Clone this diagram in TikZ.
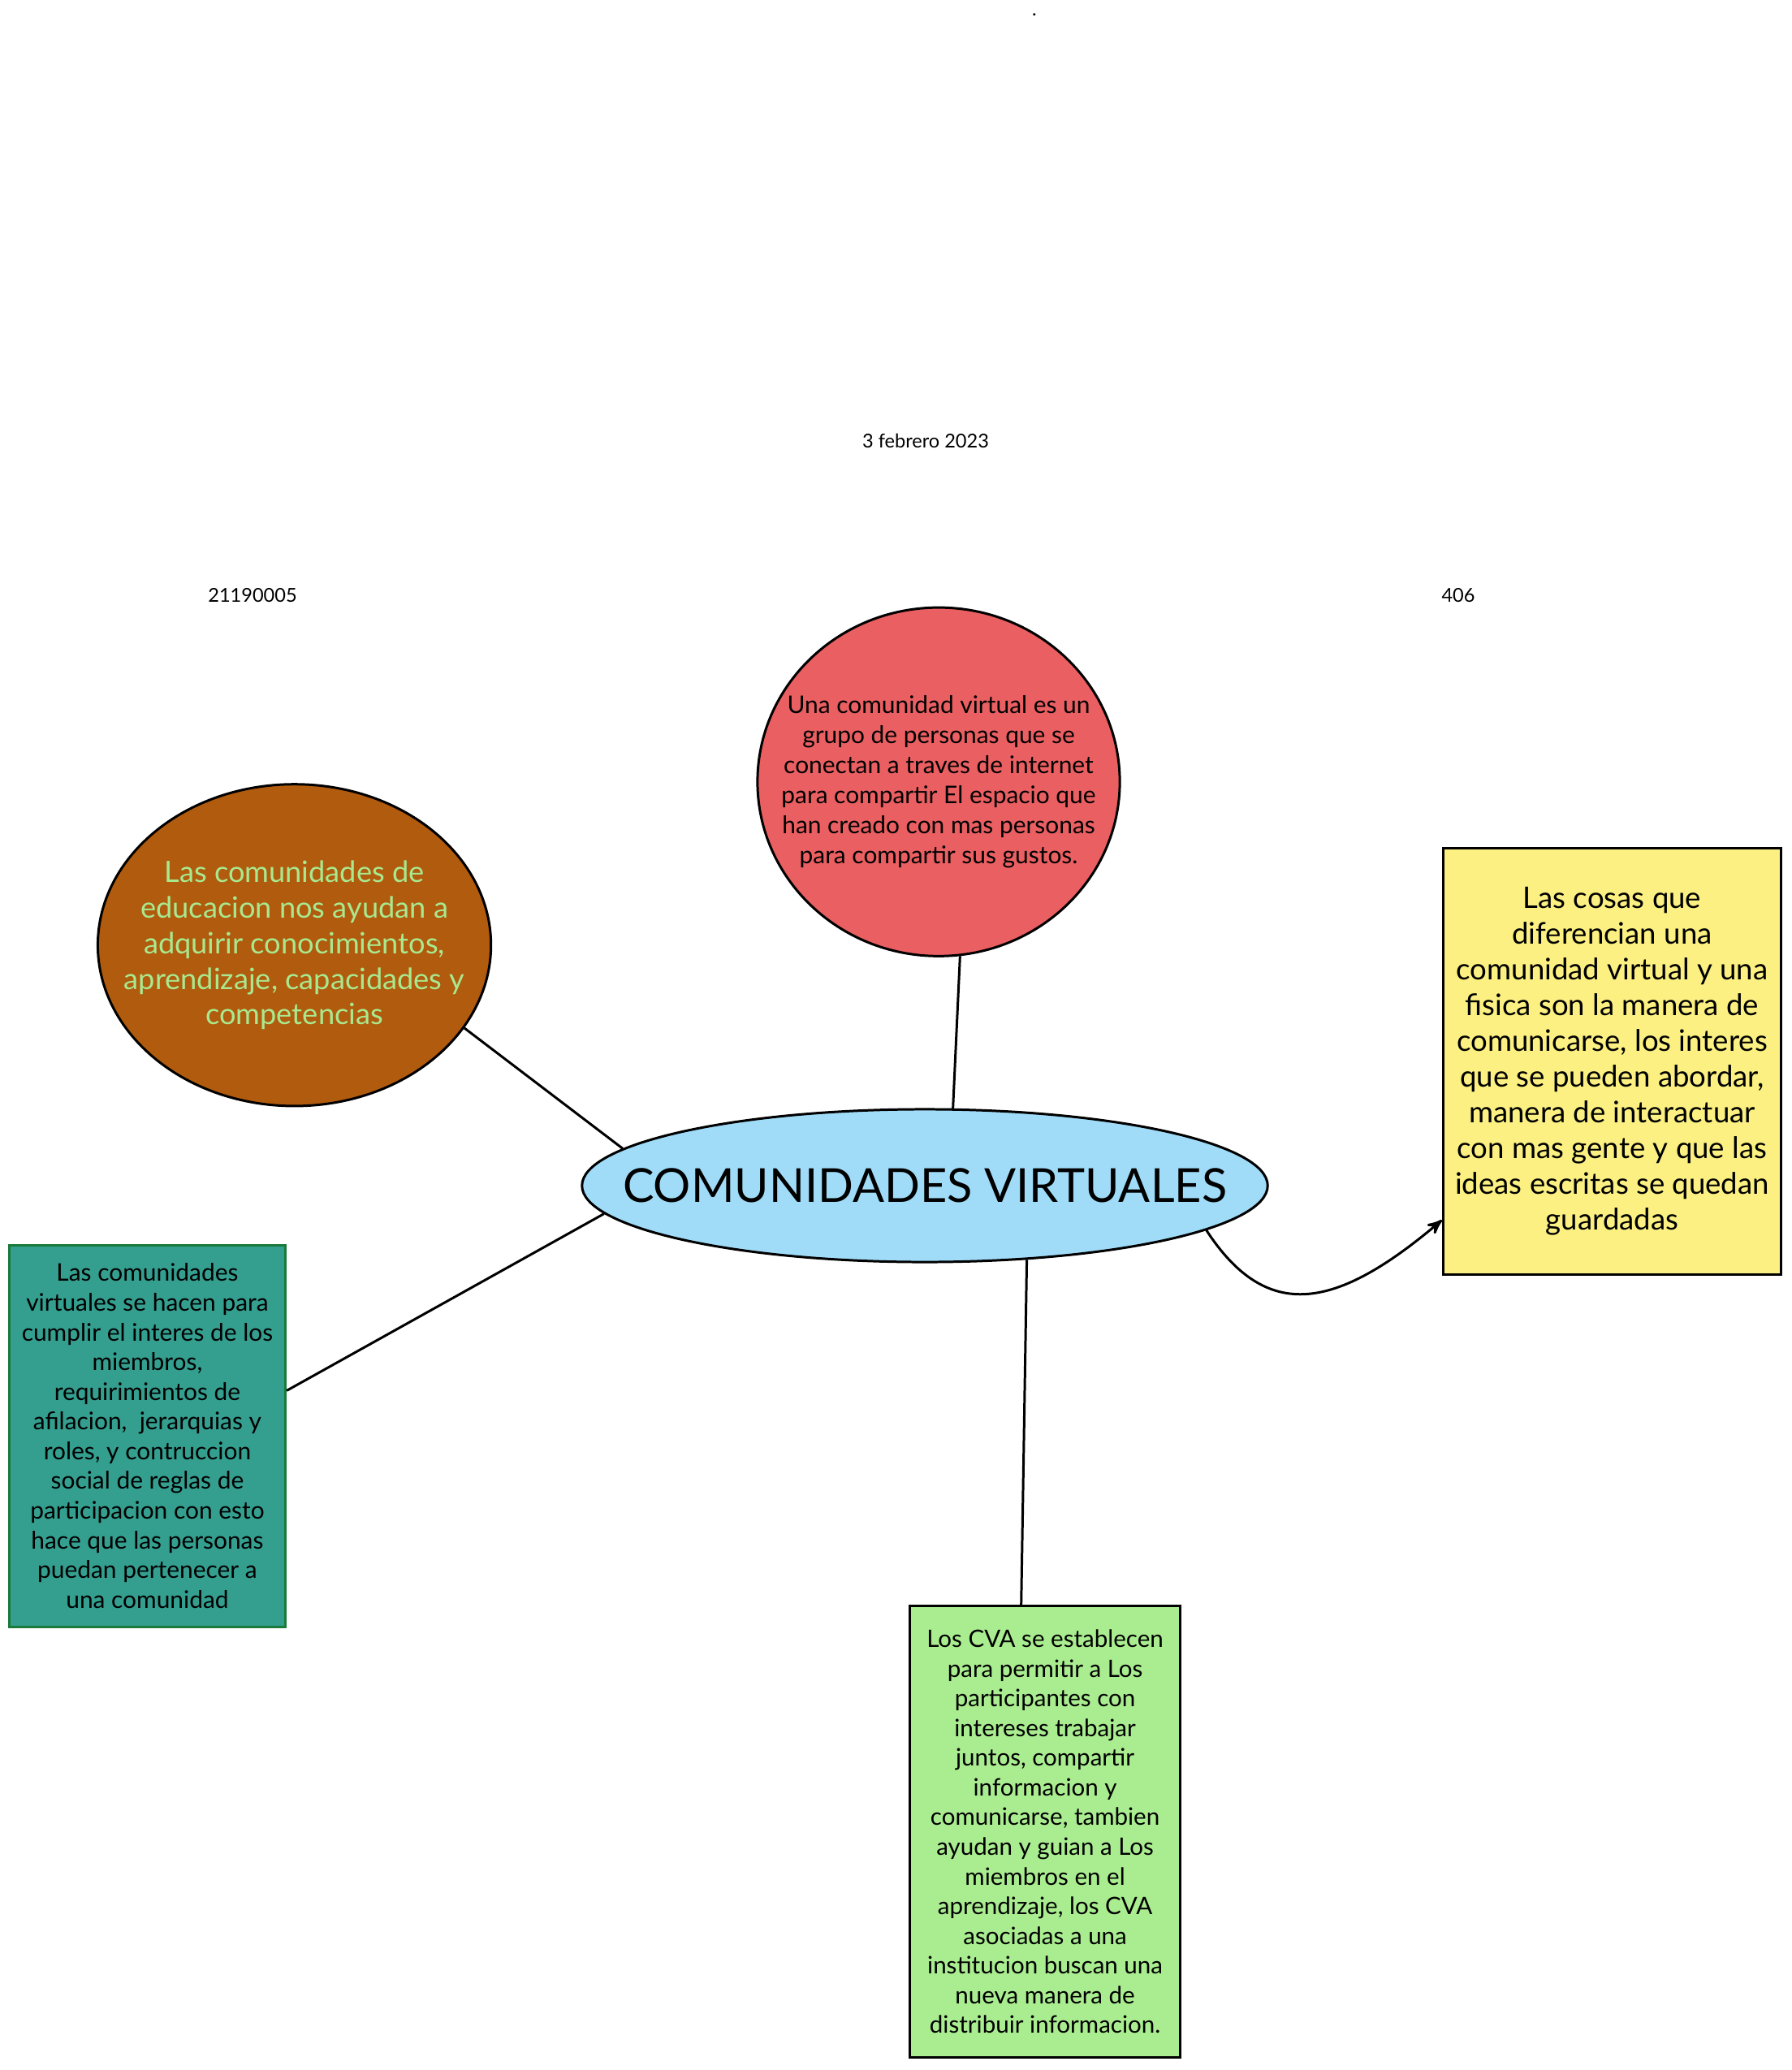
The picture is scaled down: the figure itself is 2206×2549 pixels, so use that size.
\documentclass[tikz,border=0pt]{standalone}
\usepackage{fontspec}
\setmainfont{Lato}
\usetikzlibrary{shapes.geometric, arrows, positioning}
\definecolor{hubblue}{HTML}{A0DCF8}
\definecolor{defred}{HTML}{EA5F61}
\definecolor{edubrown}{HTML}{B05B0E}
\definecolor{edutext}{HTML}{A9E98E}
\definecolor{diffyellow}{HTML}{FBF081}
\definecolor{finteal}{HTML}{349E8F}
\definecolor{finborder}{HTML}{1A7A3A}
\definecolor{cvagreen}{HTML}{AAED90}

\begin{document}
\begin{tikzpicture}[x=0.01cm, y=-0.01cm,
        tag/.style={font=\fontsize{6.7}{8}\selectfont},
        cloud/.style={draw, ellipse, line width=0.85pt, inner ysep=0pt, align=center},
        block/.style={draw, rectangle, line width=0.85pt, inner sep=0pt, align=center},
        line/.style={draw, line width=0.85pt}]

        \fill[white] (0,0) rectangle (2206,2549);
        \useasboundingbox (0,0) rectangle (2206,2549);

        % nodos
        \node [tag, inner sep=0pt, anchor=base] (dot) at (1274,20) {.};
        \node [tag] (date) at (1140,543) {3 febrero 2023};
        \node [tag] (id) at (311,733) {21190005};
        \node [tag] (group) at (1796,733) {406};

        \node [cloud, fill=hubblue, minimum width=8.44cm, minimum height=1.88cm, inner xsep=-26pt,
            font=\fontsize{16.4}{20}\selectfont] (hub) at (1139,1460) {COMUNIDADES VIRTUALES};
        \node [cloud, fill=defred, minimum width=4.46cm, minimum height=4.29cm, inner xsep=-16pt,
            font=\fontsize{8.5}{10.5}\selectfont, above=1.855cm of hub, xshift=0.17cm] (def)
            {Una comunidad virtual es un\\grupo de personas que se\\conectan a traves de internet\\para compartir El espacio que\\han creado con mas personas\\para compartir sus gustos.};
        \node [cloud, fill=edubrown, text=edutext, minimum width=4.84cm, minimum height=3.96cm, inner xsep=-20pt,
            font=\fontsize{10.3}{12.5}\selectfont, left=1.09cm of hub, yshift=2.96cm] (edu)
            {Las comunidades de\\educacion nos ayudan a\\adquirir conocimientos,\\aprendizaje, capacidades y\\competencias};
        \node [block, fill=diffyellow, minimum width=4.16cm, minimum height=5.24cm,
            font=\fontsize{10.4}{12.5}\selectfont, right=2.13cm of hub, yshift=1.53cm] (diff)
            {Las cosas que\\diferencian una\\comunidad virtual y una\\fisica son la manera de\\comunicarse, los interes\\que se pueden abordar,\\manera de interactuar\\con mas gente y que las\\ideas escritas se quedan\\guardadas};
        \node [block, draw=finborder, fill=finteal, minimum width=3.4cm, minimum height=4.7cm,
            font=\fontsize{8.5}{10.4}\selectfont, left=3.62cm of hub, yshift=-3.08cm] (fin)
            {Las comunidades\\virtuales se hacen para\\cumplir el interes de los\\miembros,\\requirimientos de\\afilacion,~ jerarquias y\\roles, y contruccion\\social de reglas de\\participacion con esto\\hace que las personas\\puedan pertenecer a\\una comunidad};
        \node [block, fill=cvagreen, minimum width=3.33cm, minimum height=5.56cm,
            font=\fontsize{8.4}{10.4}\selectfont, below=4.2cm of hub, xshift=1.48cm] (cva)
            {Los CVA se establecen\\para permitir a Los\\participantes con\\intereses trabajar\\juntos, compartir\\informacion y\\comunicarse, tambien\\ayudan y guian a Los\\miembros en el\\aprendizaje, los CVA\\asociadas a una\\institucion buscan una\\nueva manera de\\distribuir informacion.};

        % conexiones
        \path [line] (edu.-26.5) -- (hub.173);
        \path [line] (def.-83) -- (hub.70.5);
        \path [line] (fin.18.8) -- (hub.-175.5);
        \path [line] (cva.96.9) -- (hub.-36.5);
        \path [line, -stealth'] (hub.-9.85) .. controls +(75,115) and +(-130,110) .. (diff.-137.3);
    \end{tikzpicture}
\end{document}
